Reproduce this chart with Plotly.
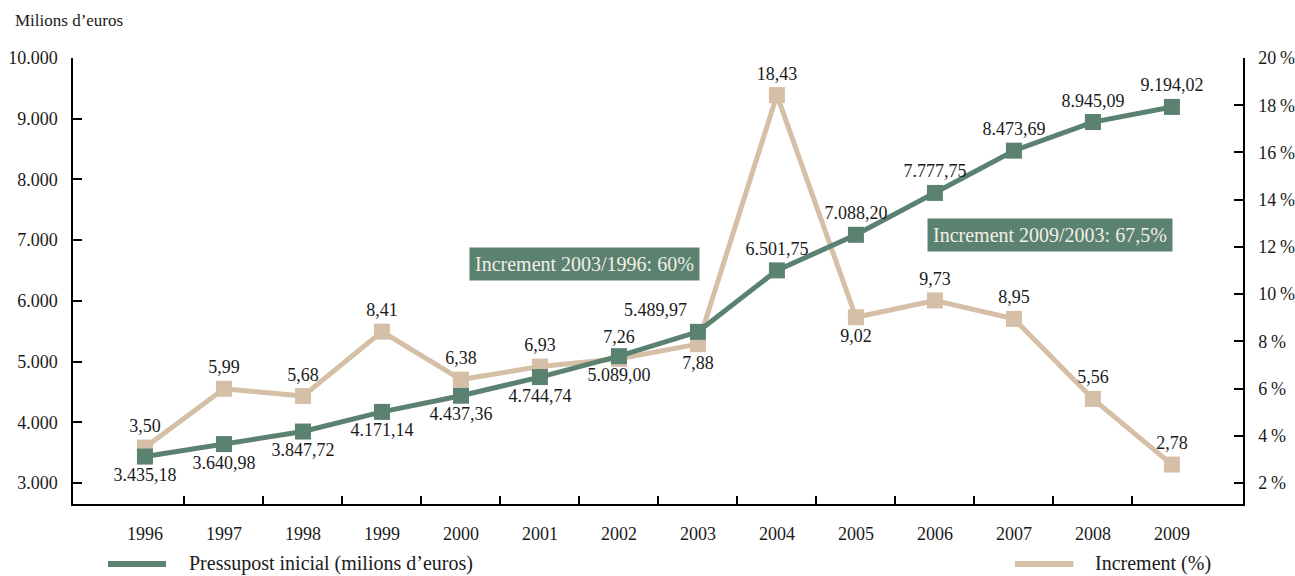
import plotly.graph_objects as go

# Budget data 1996-2009
years = ["1996", "1997", "1998", "1999", "2000", "2001", "2002",
         "2003", "2004", "2005", "2006", "2007", "2008", "2009"]
pressupost = [3435.18, 3640.98, 3847.72, 4171.14, 4437.36, 4744.74, 5089.00,
              5489.97, 6501.75, 7088.20, 7777.75, 8473.69, 8945.09, 9194.02]
increment = [3.50, 5.99, 5.68, 8.41, 6.38, 6.93, 7.26,
             7.88, 18.43, 9.02, 9.73, 8.95, 5.56, 2.78]

left_tickvals = [3000, 4000, 5000, 6000, 7000, 8000, 9000, 10000]
left_ticktext = ["3.000", "4.000", "5.000", "6.000", "7.000", "8.000", "9.000", "10.000"]
right_tickvals = [2, 4, 6, 8, 10, 12, 14, 16, 18, 20]
right_ticktext = ["2\u2009%", "4\u2009%", "6\u2009%", "8\u2009%", "10\u2009%",
                  "12\u2009%", "14\u2009%", "16\u2009%", "18\u2009%", "20\u2009%"]

GREEN = "#5b8170"
BEIGE = "#d5bfa6"
INK = "#1a1a1a"
FONT = "Liberation Serif"


def fmt_es(v):
    s = f"{v:,.2f}"
    return s.replace(",", "X").replace(".", ",").replace("X", ".")


x = list(range(len(years)))

pres_text = [fmt_es(v) for v in pressupost]
inc_text = [fmt_es(v) for v in increment]

pres_pos = ["bottom center"] * 7 + ["top left"] + ["top center"] * 6
inc_pos = ["top center"] * 7 + ["bottom center", "top center", "bottom center"] + ["top center"] * 4

fig = go.Figure()

# Increment (%) on the right-hand axis, drawn underneath
fig.add_trace(go.Scatter(
    x=x, y=increment, yaxis="y", mode="lines+markers+text",
    line=dict(color=BEIGE, width=5),
    marker=dict(symbol="square", size=16, color=BEIGE),
    text=inc_text, textposition=inc_pos,
    textfont=dict(family=FONT, size=18, color=INK),
    cliponaxis=False, showlegend=False, name="Increment (%)",
))

# Initial budget on the left-hand axis, drawn on top
fig.add_trace(go.Scatter(
    x=x, y=pressupost, yaxis="y2", mode="lines+markers+text",
    line=dict(color=GREEN, width=5),
    marker=dict(symbol="square", size=16, color=GREEN),
    text=pres_text, textposition=pres_pos,
    textfont=dict(family=FONT, size=18, color=INK),
    cliponaxis=False, showlegend=False, name="Pressupost inicial (milions d\u2019euros)",
))

xr = [-0.911, 13.9]

fig.update_layout(
    width=1295, height=576,
    margin=dict(l=73, r=52, t=58, b=72),
    paper_bgcolor="white", plot_bgcolor="white",
    font=dict(family=FONT, size=18, color=INK),
    showlegend=False,
    xaxis=dict(
        range=xr, tickmode="array", tickvals=x, ticktext=years,
        ticks="", showline=True, linecolor="black", linewidth=1.5,
        showgrid=False, zeroline=False, ticklabelstandoff=13, automargin=False,
        minor=dict(tickmode="array", tickvals=[i + 0.5 for i in range(13)],
                   ticks="inside", ticklen=8, tickwidth=1.5, tickcolor="black",
                   showgrid=False),
    ),
    yaxis=dict(
        side="right", range=[1.11, 20], tickmode="array",
        tickvals=right_tickvals, ticktext=right_ticktext,
        ticks="inside", ticklen=9, tickwidth=1.5, tickcolor="black",
        showline=True, linecolor="black", linewidth=1.5,
        showgrid=False, zeroline=False, ticklabelstandoff=10, automargin=False,
    ),
    yaxis2=dict(
        side="left", overlaying="y", range=[2654, 10000], tickmode="array",
        tickvals=left_tickvals, ticktext=left_ticktext,
        ticks="inside", ticklen=9, tickwidth=1.5, tickcolor="black",
        showline=True, linecolor="black", linewidth=1.5,
        showgrid=False, zeroline=False, ticklabelstandoff=10, automargin=False,
    ),
)

# Axis caption
fig.add_annotation(
    text="Milions d\u2019euros", xref="paper", yref="paper",
    x=-0.0513, y=1.085, xanchor="left", yanchor="middle",
    showarrow=False, font=dict(family=FONT, size=17, color=INK),
)

# Growth call-outs
box_font = dict(family=FONT, size=20, color="#f3efe6")
fig.add_annotation(
    text="Increment 2003/1996: 60%", xref="x", yref="y2",
    x=5.56, y=6606, showarrow=False, font=box_font,
    bgcolor=GREEN, borderpad=5,
)
fig.add_annotation(
    text="Increment 2009/2003: 67,5%", xref="x", yref="y2",
    x=11.46, y=7084, showarrow=False, font=box_font,
    bgcolor=GREEN, borderpad=5,
)

# Legend drawn below the axis
leg_y = -0.1345
fig.add_shape(type="line", xref="paper", yref="paper",
              x0=0.0299, x1=0.0795, y0=leg_y, y1=leg_y,
              line=dict(color=GREEN, width=6))
fig.add_annotation(text="Pressupost inicial (milions d\u2019euros)", xref="paper", yref="paper",
                   x=0.0974, y=leg_y, xanchor="left", yanchor="middle",
                   showarrow=False, font=dict(family=FONT, size=20, color=INK))
fig.add_shape(type="line", xref="paper", yref="paper",
              x0=0.805, x1=0.855, y0=leg_y, y1=leg_y,
              line=dict(color=BEIGE, width=6))
fig.add_annotation(text="Increment (%)", xref="paper", yref="paper",
                   x=0.872, y=leg_y, xanchor="left", yanchor="middle",
                   showarrow=False, font=dict(family=FONT, size=20, color=INK))

fig.write_html("out.html")
